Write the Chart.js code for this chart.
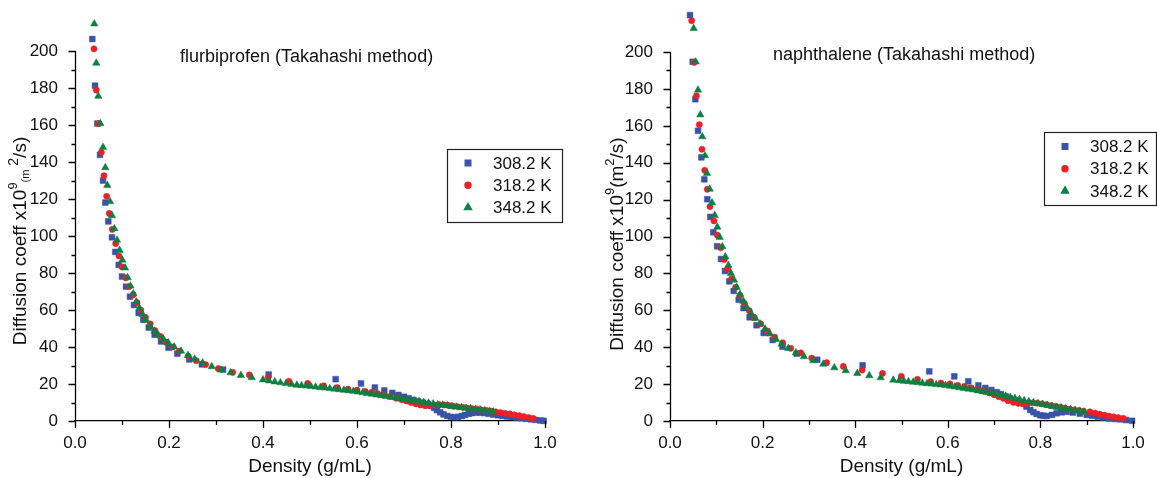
<!DOCTYPE html>
<html><head><meta charset="utf-8">
<script src="https://cdn.jsdelivr.net/npm/chart.js@4.4.1/dist/chart.umd.min.js"></script>
<style>
html,body{margin:0;padding:0;background:#fff;}
#wrap{position:relative;width:1157px;height:478px;overflow:hidden;background:#fff;}
#c1{position:absolute;left:0;top:0;width:578px;height:478px;}
#c2{position:absolute;left:578px;top:0;width:579px;height:478px;}
</style></head><body>
<div id="wrap"><canvas id="c1" width="578" height="478"></canvas><canvas id="c2" width="579" height="478"></canvas></div>
<script>
// ---------------- data ----------------
const seriesLabels = ['308.2 K', '318.2 K', '348.2 K'];
const xAxisTitle = 'Density (g/mL)';
const titleLeft = 'flurbiprofen (Takahashi method)';
const titleRight = 'naphthalene (Takahashi method)';
const yTickMax = 200;

// flurbiprofen: [density g/mL, D x1e9 m2/s]
const flurbi308 = [
[0.0368,206.5],[0.0426,181.3],[0.0475,160.8],[0.0532,143.9],[0.0596,130.0],[0.0645,118.1],[0.0709,107.9],[0.0787,99.3],
[0.0858,91.4],[0.093,84.4],[0.100,78.1],[0.1085,72.6],[0.117,67.2],[0.1255,62.7],[0.1355,58.4],[0.1454,54.7],[0.157,50.5],
[0.1695,46.6],[0.183,43.0],[0.199,39.6],[0.2177,36.4],[0.243,33.3],[0.270,30.6],[0.315,27.8],[0.412,25.1],[0.5546,22.6],
[0.6085,20.3],[0.638,18.1],[0.658,16.5],[0.675,15.2],[0.688,14.1],[0.700,13.1],[0.710,12.3],[0.720,11.4],[0.730,10.6],
[0.740,9.9],[0.750,9.2],[0.757,8.3],[0.764,7.1],[0.770,5.9],[0.777,4.7],[0.784,3.6],[0.792,2.7],[0.800,2.2],[0.808,2.0],
[0.815,2.2],[0.823,2.7],[0.830,3.3],[0.838,3.9],[0.845,4.3],[0.853,4.5],[0.862,4.5],[0.870,4.3],[0.880,3.9],[0.890,3.5],
[0.900,3.1],[0.910,2.7],[0.920,2.4],[0.930,2.1],[0.940,1.8],[0.950,1.5],[0.960,1.2],[0.970,0.9],[0.980,0.6],[0.990,0.3],[0.997,0.1]
];
const flurbi318 = [
[0.0404,201.2],[0.0453,178.9],[0.0504,160.8],[0.056,145.3],[0.0617,132.6],[0.0674,121.5],[0.073,112.2],[0.0794,103.6],
[0.0865,95.9],[0.0936,89.2],[0.100,83.3],[0.108,77.4],[0.1156,72.7],[0.124,68.3],[0.132,64.0],[0.140,60.0],[0.150,56.0],
[0.160,52.5],[0.170,48.9],[0.1816,45.7],[0.1936,42.6],[0.208,40.0],[0.222,37.8],[0.241,35.1],[0.258,32.6],[0.278,30.5],
[0.305,28.3],[0.3355,26.3],[0.371,24.9],[0.411,23.5],[0.455,21.5],[0.495,20.3],[0.529,19.0],[0.558,18.1],[0.581,17.2],
[0.600,16.7],[0.617,16.0],[0.631,15.5],[0.643,15.0],[0.655,14.2],[0.670,13.3],[0.684,12.3],[0.695,11.5],[0.705,10.8],
[0.715,10.0],[0.725,9.3],[0.735,8.7],[0.745,8.2],[0.755,8.3],[0.765,8.6],[0.775,8.8],[0.785,8.7],[0.795,8.4],[0.805,8.0],
[0.815,7.7],[0.825,7.4],[0.835,7.0],[0.845,6.7],[0.855,6.4],[0.865,6.0],[0.875,5.7],[0.885,5.3],[0.895,5.0],[0.905,4.6],
[0.915,4.2],[0.925,3.8],[0.935,3.3],[0.945,2.9],[0.955,2.4],[0.965,1.9],[0.975,1.4]
];
const flurbi348 = [
[0.041,214.7],[0.0453,193.5],[0.0496,175.6],[0.0539,160.8],[0.0596,148.0],[0.0645,137.0],[0.0688,127.4],[0.0745,118.6],
[0.0787,111.0],[0.0837,104.0],[0.0894,97.8],[0.095,92.3],[0.1007,87.0],[0.1064,82.8],[0.112,77.5],[0.118,73.0],[0.124,68.8],
[0.1305,64.5],[0.137,61.0],[0.144,57.6],[0.151,54.6],[0.160,51.2],[0.169,48.6],[0.177,46.6],[0.188,44.3],[0.1986,42.3],
[0.211,40.1],[0.2255,37.8],[0.2404,35.5],[0.2546,33.5],[0.2716,31.4],[0.291,29.4],[0.3106,27.6],[0.331,26.1],[0.353,24.7],
[0.376,23.5],[0.400,22.3],[0.413,21.7],[0.425,21.2],[0.437,20.7],[0.449,20.3],[0.461,19.8],[0.472,19.4],[0.482,19.2],
[0.492,19.0],[0.502,18.7],[0.512,18.4],[0.522,18.1],[0.532,17.9],[0.542,17.6],[0.552,17.3],[0.562,17.0],[0.572,16.7],
[0.582,16.4],[0.592,16.1],[0.602,15.7],[0.612,15.3],[0.622,14.9],[0.632,14.5],[0.642,14.1],[0.652,13.7],[0.662,13.3],
[0.672,12.9],[0.682,12.5],[0.692,12.1],[0.702,11.7],[0.712,11.3],[0.722,10.9],[0.732,10.5],[0.742,10.1],[0.752,9.7],
[0.762,9.3],[0.772,8.9],[0.782,8.6],[0.792,8.3],[0.802,7.9],[0.812,7.6],[0.822,7.3],[0.832,7.0],[0.842,6.7],[0.852,6.3],
[0.862,6.0],[0.872,5.6],[0.882,5.3],[0.890,5.0]
];

// naphthalene
const naph308 = [
[0.0432,220.0],[0.049,194.7],[0.0547,174.4],[0.0605,157.3],[0.0677,142.9],[0.0741,131.0],[0.0806,120.2],[0.087,110.6],
[0.0936,102.3],[0.1018,94.7],[0.1102,87.8],[0.1188,81.3],[0.128,75.7],[0.1376,70.5],[0.1484,65.7],[0.159,61.2],[0.172,56.2],
[0.187,51.9],[0.2024,47.7],[0.2218,43.9],[0.243,40.3],[0.2736,36.5],[0.318,33.2],[0.416,30.2],[0.560,26.9],[0.614,24.2],
[0.6443,21.5],[0.666,19.3],[0.681,17.9],[0.694,16.8],[0.706,15.6],[0.715,14.5],[0.725,13.3],[0.734,12.3],[0.745,11.2],
[0.755,10.3],[0.763,9.6],[0.770,7.8],[0.778,6.0],[0.785,4.8],[0.792,3.8],[0.800,3.1],[0.807,2.8],[0.8136,2.7],[0.825,3.3],
[0.835,4.2],[0.846,4.7],[0.857,5.0],[0.870,4.6],[0.885,4.0],[0.900,3.3],[0.912,2.8],[0.924,2.3],[0.936,1.8],[0.948,1.4],
[0.960,1.1],[0.972,0.9],[0.985,0.5],[0.998,0.1]
];
const naph318 = [
[0.0468,217.0],[0.0525,194.4],[0.057,176.2],[0.0633,160.6],[0.0691,147.3],[0.075,135.9],[0.0806,125.6],[0.0864,116.2],
[0.095,108.4],[0.1022,100.8],[0.1095,93.9],[0.1174,87.6],[0.1246,82.2],[0.1332,77.1],[0.1418,72.5],[0.1512,68.1],
[0.1605,63.8],[0.1713,59.8],[0.182,56.0],[0.196,52.6],[0.2102,48.8],[0.226,45.5],[0.2434,42.4],[0.2607,39.4],[0.2823,36.9],
[0.306,34.1],[0.3384,31.6],[0.3744,29.6],[0.415,27.6],[0.459,25.8],[0.4996,24.2],[0.5345,22.6],[0.563,21.3],[0.5853,20.6],
[0.6048,20.1],[0.6214,19.3],[0.636,18.8],[0.650,18.0],[0.664,17.2],[0.677,16.3],[0.690,15.2],[0.700,14.2],[0.710,13.2],
[0.720,12.3],[0.730,11.0],[0.7415,10.1],[0.752,9.6],[0.763,9.3],[0.773,9.6],[0.783,9.9],[0.793,9.7],[0.803,9.3],[0.813,8.9],
[0.823,8.4],[0.833,8.0],[0.843,7.5],[0.853,7.0],[0.863,6.5],[0.873,6.0],[0.883,5.7],[0.893,5.3],[0.907,5.0],[0.918,4.3],
[0.928,3.7],[0.938,3.2],[0.948,2.7],[0.958,2.2],[0.968,1.8],[0.979,1.5]
];
const naph348 = [
[0.0511,212.8],[0.0554,194.7],[0.0605,179.4],[0.0655,166.0],[0.0698,154.1],[0.0756,143.8],[0.0799,134.3],[0.0857,125.7],
[0.0907,118.3],[0.0965,111.5],[0.1022,105.1],[0.1073,99.6],[0.113,94.5],[0.1195,89.0],[0.126,84.4],[0.1317,80.0],
[0.1382,76.4],[0.144,72.5],[0.1512,68.7],[0.1584,65.0],[0.1656,61.8],[0.175,58.4],[0.1843,55.7],[0.1944,52.7],[0.2052,50.0],
[0.216,47.2],[0.2289,44.3],[0.241,41.7],[0.2555,39.4],[0.272,37.0],[0.2894,34.9],[0.3095,32.7],[0.3311,30.9],[0.3549,28.9],
[0.3795,27.3],[0.4046,25.8],[0.4305,24.6],[0.455,23.5],[0.4823,22.2],[0.495,21.9],[0.505,21.6],[0.515,21.4],[0.525,21.1],
[0.535,20.9],[0.545,20.6],[0.555,20.3],[0.565,20.1],[0.575,19.8],[0.585,19.6],[0.595,19.3],[0.605,18.9],[0.615,18.5],
[0.625,18.1],[0.635,17.7],[0.645,17.3],[0.655,16.9],[0.665,16.4],[0.675,16.0],[0.685,15.5],[0.695,15.1],[0.705,14.6],
[0.715,14.0],[0.725,13.5],[0.735,12.9],[0.745,12.3],[0.755,11.7],[0.765,11.1],[0.775,10.5],[0.785,10.0],[0.795,9.5],
[0.805,9.0],[0.815,8.5],[0.825,8.0],[0.835,7.5],[0.845,7.1],[0.855,6.6],[0.865,6.2],[0.875,5.8],[0.885,5.4],[0.895,4.9]
];

// ---------------- styling ----------------
const COLORS = ['#3853a8', '#ee1f26', '#0c8040'];
const STYLES = ['rect', 'circle', 'triangle'];
const RADII = [4.1, 3.1, 4.3];
const FONT = '"Liberation Sans", Arial, sans-serif';

function drawRich(ctx, segs, cx, cy) {
  ctx.save();
  ctx.translate(cx, cy);
  ctx.rotate(-Math.PI / 2);
  let total = 0;
  segs.forEach(s => { ctx.font = s.size + 'px ' + FONT; s.w = ctx.measureText(s.t).width; total += s.w; });
  let x = -total / 2;
  ctx.fillStyle = '#111';
  ctx.textBaseline = 'alphabetic';
  ctx.textAlign = 'left';
  segs.forEach(s => { ctx.font = s.size + 'px ' + FONT; ctx.fillText(s.t, x, 7 + (s.dy || 0)); x += s.w; });
  ctx.restore();
}

const decoPlugin = {
  id: 'deco',
  afterDraw(chart, args, o) {
    const ctx = chart.ctx, xs = chart.scales.x, ys = chart.scales.y;
    ctx.save();
    ctx.strokeStyle = '#000'; ctx.lineWidth = 1.3;
    ctx.beginPath();
    const ax = Math.round(ys.right) + 0.5;
    ctx.moveTo(ax, ys.getPixelForValue(0) + 0.7);
    ctx.lineTo(ax, Math.round(ys.getPixelForValue(yTickMax)));
    xs.ticks.forEach(t => {
      const px = Math.round(xs.getPixelForValue(t.value)) + 0.5;
      const major = Math.round(t.value * 10) % 2 === 0;
      ctx.moveTo(px, xs.top); ctx.lineTo(px, xs.top + (major ? 7 : 4));
    });
    ys.ticks.forEach(t => {
      if (t.value > yTickMax) return;
      const py = Math.round(ys.getPixelForValue(t.value)) + 0.5;
      const major = Math.round(t.value) % 20 === 0;
      ctx.moveTo(ax, py); ctx.lineTo(ax - (major ? 7 : 4), py);
    });
    ctx.stroke();
    ctx.fillStyle = '#111'; ctx.font = o.titleSize + 'px ' + FONT;
    ctx.textAlign = 'left'; ctx.textBaseline = 'middle';
    ctx.fillText(o.title, o.titleX, o.titleY);
    drawRich(ctx, o.ySegs, o.yTitleX, o.yTitleY);
    const L = o.legend;
    ctx.strokeStyle = '#222'; ctx.lineWidth = 1.2;
    ctx.strokeRect(L.x + 0.5, L.y + 0.5, L.w, L.h);
    chart.data.datasets.forEach((ds, i) => {
      const yy = L.y + L.first + i * L.gap;
      ctx.fillStyle = ds.backgroundColor; ctx.strokeStyle = ds.backgroundColor;
      Chart.helpers.drawPoint(ctx, { pointStyle: ds.pointStyle, radius: ds.pointRadius, borderWidth: 0.5 }, L.x + L.mx, yy);
      ctx.fillStyle = '#111'; ctx.font = L.size + 'px ' + FONT; ctx.textBaseline = 'middle'; ctx.textAlign = 'left';
      ctx.fillText(ds.label, L.x + L.tx, yy + 1);
    });
    ctx.restore();
  }
};

function makeChart(id, sets, pad, yAxisW, yMax, deco) {
  const datasets = sets.map((d, i) => ({
    label: seriesLabels[i], data: d, pointStyle: STYLES[i], pointRadius: RADII[i],
    backgroundColor: COLORS[i], borderColor: COLORS[i], pointBorderWidth: 0.5,
    showLine: false, clip: false, order: 3 - i
  }));
  return new Chart(document.getElementById(id), {
    type: 'scatter',
    data: { datasets },
    plugins: [decoPlugin],
    options: {
      responsive: false, animation: false, devicePixelRatio: 1,
      layout: { padding: pad },
      plugins: { legend: { display: false }, tooltip: { enabled: false }, deco },
      scales: {
        x: {
          type: 'linear', min: 0, max: 1,
          grid: { display: false },
          border: { display: true, color: '#000', width: 1.3 },
          ticks: { stepSize: 0.1, autoSkip: false, maxRotation: 0, padding: 4, color: '#111',
            font: { family: FONT, size: 17 },
            callback: v => (Math.round(v * 10) % 2 === 0 ? v.toFixed(1) : '') },
          title: { display: true, text: xAxisTitle, color: '#111', font: { family: FONT, size: 19 }, padding: { top: 8, bottom: 0 } },
          afterFit: s => { s.height = 57; }
        },
        y: {
          type: 'linear', min: 0, max: yMax,
          grid: { display: false },
          border: { display: false },
          ticks: { stepSize: 10, autoSkip: false, padding: 9, color: '#111',
            font: { family: FONT, size: 17 },
            callback: v => (v <= yTickMax && Math.round(v) % 20 === 0 ? String(v) : '') },
          afterFit: s => { s.width = yAxisW; s.paddingTop = 0; s.paddingBottom = 0; }
        }
      }
    }
  });
}

makeChart('c1', [flurbi308, flurbi318, flurbi348], { left: 0, top: 2.5, right: 33, bottom: 0 }, 75, 225, {
  title: titleLeft, titleX: 180, titleY: 57, titleSize: 18,
  ySegs: [{ t: 'Diffusion coeff x10', size: 19 }, { t: '9', size: 13, dy: -9 }, { t: '(m', size: 11, dy: 3 },
          { t: ' 2', size: 14, dy: -8 }, { t: '/s)', size: 19 }],
  yTitleX: 19, yTitleY: 241,
  legend: { x: 447, y: 149, w: 115, h: 73, mx: 21, tx: 46, first: 14, gap: 22.3, size: 17 }
});
makeChart('c2', [naph308, naph318, naph348], { left: 0, top: 5.9, right: 24, bottom: 0 }, 92, 225, {
  title: titleRight, titleX: 195, titleY: 55, titleSize: 18,
  ySegs: [{ t: 'Diffusion coeff x10', size: 19 }, { t: '9', size: 13, dy: -9 }, { t: '(m', size: 19 },
          { t: '2', size: 13, dy: -9 }, { t: '/s)', size: 19 }],
  yTitleX: 38, yTitleY: 244,
  legend: { x: 466, y: 132, w: 112, h: 73, mx: 21, tx: 46, first: 14.5, gap: 22.2, size: 17 }
});
</script>
</body></html>
